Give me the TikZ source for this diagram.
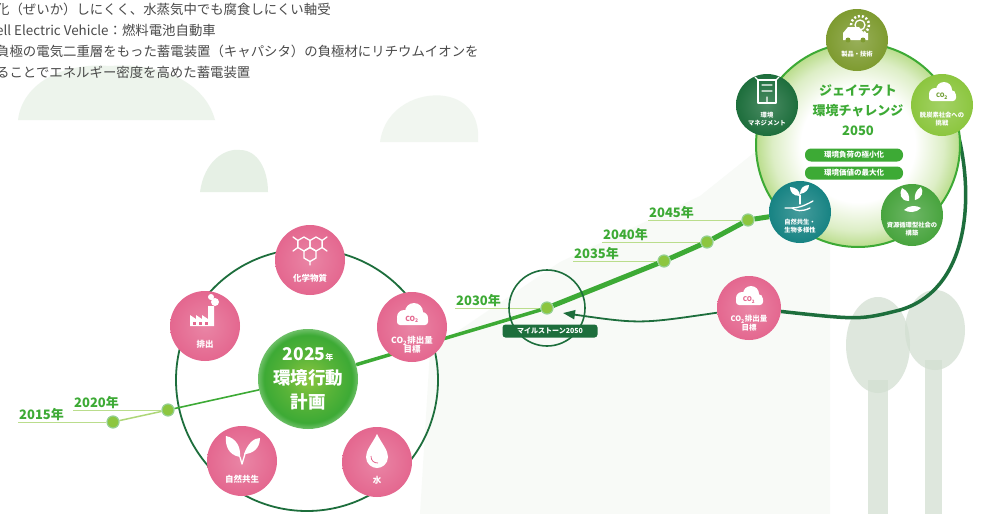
\documentclass[tikz,border=0pt]{standalone}
\usepackage{fontspec}
\setmainfont{Noto Sans CJK JP}
\usetikzlibrary{
    arrows.meta,
    positioning,
    backgrounds,
    calc
}

\definecolor{jgreen}{HTML}{3DAA35}
\definecolor{jlime}{HTML}{8CC63F}
\definecolor{jdark}{HTML}{1D6E3C}
\definecolor{jpink}{HTML}{E4678F}
\definecolor{jolive}{HTML}{7E9B30}
\definecolor{jteal}{HTML}{178383}
\definecolor{jmid}{HTML}{48A43E}
\definecolor{jtext}{HTML}{4A4A4A}
\definecolor{jhaze}{HTML}{DCEADB}

% glow for the 2050 ring and the 2025 core (edge of a circle sits at 25bp)
\pgfdeclareradialshading{ringglow}{\pgfpoint{0bp}{0bp}}{color(0bp)=(white); color(14bp)=(white); color(21bp)=(jlime!30!white); color(25bp)=(jlime!60!white); color(50bp)=(jlime!60!white)}
\pgfdeclareradialshading{coreglow}{\pgfpoint{0bp}{0bp}}{color(0bp)=(jlime); color(12bp)=(jgreen!65!jlime); color(22bp)=(jgreen); color(25bp)=(jgreen!75!white); color(50bp)=(jgreen!75!white)}

\begin{document}
\begin{tikzpicture}[x=1pt,y=-1pt,
    topic/.style={circle,shade,inner color=jpink!80!white,outer color=jpink,minimum size=70pt,inner sep=0pt},
    pillar/.style={circle,minimum size=62pt,inner sep=0pt},
    tag/.style={text=white,font=\fontsize{8.5}{9.5}\selectfont\bfseries,align=center,inner sep=0pt},
    smalltag/.style={text=white,font=\fontsize{6.3}{7.5}\selectfont\bfseries,align=center,inner sep=0pt},
    icon/.style={white,line width=1.3pt,line join=round,line cap=round},
    yeardot/.style={circle,fill=jlime,draw=jgreen!55!white,line width=1.2pt,minimum size=12pt,inner sep=0pt},
    yeartext/.style={text=jgreen,font=\fontsize{13}{13}\selectfont\bfseries,inner sep=1pt,anchor=south west},
    tick/.style={jlime!60!white,line width=0.8pt},
    route/.style={jgreen,line width=5pt},
    haze/.style={fill=jhaze},
    tree/.style={fill=jhaze!90!gray,opacity=.75}]
\useasboundingbox (0,0) rectangle (986,514);
\clip (0,0) rectangle (986,514);

% background: clouds, trees, soft band
\begin{scope}[on background layer]
    \fill[white] (0,0) rectangle (986,514);
    \fill[haze,opacity=.5] (18,120) .. controls (22,85) and (60,62) .. (110,66) .. controls (160,62) and (205,82) .. (215,120) -- cycle;
    \fill[haze,opacity=.7] (200,192) .. controls (204,162) and (224,148) .. (240,150) .. controls (258,150) and (268,170) .. (268,192) -- cycle;
    \fill[haze,opacity=.4] (380,142) .. controls (385,106) and (420,92) .. (445,96) .. controls (470,100) and (480,120) .. (478,142) -- cycle;
    \fill[haze,opacity=.2] (420,514) -- (430,350) -- (560,262) -- (700,196) -- (770,140) -- (830,240) -- (830,514) -- cycle;
    \fill[tree] (878,345) ellipse (32 and 48);
    \fill[tree] (935,330) ellipse (30 and 40);
    \fill[tree] (868,380) rectangle (888,514);
    \fill[tree] (925,360) rectangle (942,514);
\end{scope}

% notes
\node[anchor=north west,align=left,text=jtext,font=\fontsize{13.4}{21}\selectfont,inner sep=0pt] (notes) at (-4,3)
    {化（ぜいか）しにくく、水蒸気中でも腐食しにくい軸受\\ell Electric Vehicle：燃料電池自動車\\負極の電気二重層をもった蓄電装置（キャパシタ）の負極材にリチウムイオンを\\ることでエネルギー密度を高めた蓄電装置};

% 2025 plan
\node[circle,shade,shading=coreglow,minimum size=100pt,inner sep=0pt,text=white,align=center,
      font=\fontsize{17.5}{24}\selectfont\bfseries] (core) at (308,379)
    {2025{\fontsize{8}{8}\selectfont 年}\\環境行動\\計画};
\foreach \nm/\cx/\cy/\txt in {chem/310/260/化学物質, fact/205/326/排出, co2a/412/327/{CO\textsubscript{2}排出量\\目標}, leaf/242/461/自然共生, drop/377/462/水}
{
    \node[topic] (\nm) at (\cx,\cy) {};
    \node[tag] at ($(\nm)+(0,18)$) {\txt};
}

% icons of the plan
\begin{scope}[shift={(chem)}]
    \foreach \hx/\hy in {-6.06/-16,6.06/-16,0/-5.5}
        \draw[icon] (\hx,\hy) +(30:7) -- +(90:7) -- +(150:7) -- +(210:7) -- +(270:7) -- +(330:7) -- cycle;
    \draw[icon] (-12.1,-19.5) -- (-17,-23) (12.1,-19.5) -- (17,-23) (-12.1,-12.5) -- (-17,-9) (12.1,-12.5) -- (17,-9) (0,1.5) -- (0,5);
\end{scope}
\begin{scope}[shift={(fact)}]
    \fill[white] (-15,0) -- (-15,-11) -- (-9,-7) -- (-9,-11) -- (-3,-7) -- (-3,-11) -- (3,-7) -- (3,-20) -- (9,-20) -- (9,0) -- cycle;
    \foreach \wx in {-12,-6,0} \fill[jpink] (\wx,-4) rectangle (\wx+3,-1.5);
    \fill[white] (10,-24) circle (4) (6,-29) circle (3);
\end{scope}
\begin{scope}[shift={(co2a)}]
    \fill[white] (-8,-10) circle (7) (2,-15) circle (9) (10,-9) circle (6);
    \fill[white,rounded corners=3pt] (-15,-11) rectangle (16,-2);
    \node[text=jpink,font=\fontsize{7}{7}\selectfont\bfseries,inner sep=0pt] at (0,-8) {CO\textsubscript{2}};
\end{scope}
\begin{scope}[shift={(drop)}]
    \fill[white] (0,-28) .. controls (5,-18) and (11,-12) .. (11,-5) .. controls (11,2) and (5,6) .. (0,6) .. controls (-5,6) and (-11,2) .. (-11,-5) .. controls (-11,-12) and (-5,-18) .. (0,-28);
    \draw[jpink,line width=0.8pt] (-6,-6) .. controls (-6,-1) and (-3,1) .. (1,1);
\end{scope}
\begin{scope}[shift={(leaf)}]
    \fill[white] (-2,-4) .. controls (-14,-6) and (-17,-16) .. (-16,-25) .. controls (-6,-23) and (-1,-14) .. (-2,-4);
    \fill[white] (2,-7) .. controls (6,-18) and (12,-23) .. (18,-23) .. controls (18,-12) and (10,-7) .. (2,-7);
    \draw[icon] (0,3) -- (-2,-4) (0,3) -- (3,-7);
\end{scope}

% 2050 challenge
\node[circle,shade,shading=ringglow,draw=jgreen,line width=2pt,minimum size=204pt,inner sep=0pt] (ring) at (858,145) {};
\node[text=jgreen,align=center,font=\fontsize{13}{20}\selectfont\bfseries,inner sep=0pt] (motto) at (858,110)
    {ジェイテクト\\環境チャレンジ\\2050};
\node[fill=jgreen,rounded corners=6pt,text=white,font=\fontsize{7.5}{8}\selectfont\bfseries,
      minimum width=98pt,minimum height=13pt,inner sep=0pt] (low1) at (854,155) {環境負荷の極小化};
\node[fill=jgreen,rounded corners=6pt,text=white,font=\fontsize{7.5}{8}\selectfont\bfseries,
      minimum width=98pt,minimum height=13pt,inner sep=0pt] (low2) at (854,173) {環境価値の最大化};
\foreach \nm/\cx/\cy/\col/\txt in {rtop/857/40/jolive/製品・技術, rleft/767/105/jdark/{環境\\マネジメント},
    rright/942/105/jlime/{脱炭素社会への\\挑戦}, rbl/800/212/jteal/{自然共生・\\生物多様性}, rbr/912/215/jmid/{資源循環型社会の\\構築}}
{
    \node[pillar,shade,inner color=\col!80!white,outer color=\col] (\nm) at (\cx,\cy) {};
    \node[smalltag] at ($(\nm)+(0,14)$) {\txt};
}

% icons of the challenge
\begin{scope}[shift={(rtop)}]
    \draw[white,line width=2.5pt,dash pattern=on 2pt off 2pt] (3,-15) circle (9);
    \draw[icon] (3,-15) circle (5);
    \fill[white] (-14,0) -- (-14,-7) -- (-9,-13) -- (2,-13) -- (7,-7) -- (11,-7) -- (11,0) -- cycle;
    \fill[jolive] (-9,0) circle (2.5) (6,0) circle (2.5);
\end{scope}
\begin{scope}[shift={(rleft)}]
    \draw[icon] (-9,-25) rectangle (9,-2);
    \draw[icon] (-5,-20) -- (5,-20) (-5,-14) -- (5,-14) (0,-8) -- (0,-2) (-9,-25) -- (-12,-28) (9,-25) -- (12,-28);
\end{scope}
\begin{scope}[shift={(rright)}]
    \fill[white] (-7,-11) circle (6) (2,-15) circle (8) (9,-10) circle (5);
    \fill[white,rounded corners=3pt] (-13,-12) rectangle (14,-4);
    \node[text=jlime!80!black,font=\fontsize{6}{6}\selectfont\bfseries,inner sep=0pt] at (0,-9) {CO\textsubscript{2}};
\end{scope}
\begin{scope}[shift={(rbl)}]
    \draw[icon] (0,-8) -- (0,-17);
    \fill[white] (0,-16) .. controls (-7,-16) and (-10,-20) .. (-10,-25) .. controls (-4,-25) and (0,-21) .. (0,-16);
    \fill[white] (0,-18) .. controls (6,-19) and (9,-23) .. (9,-27) .. controls (3,-27) and (0,-23) .. (0,-18);
    \draw[icon] (-15,-4) -- (-8,-4) .. controls (-2,-4) and (4,-6) .. (13,-11);
    \draw[icon] (-8,-4) .. controls (-4,-1) and (2,0) .. (10,-4);
\end{scope}
\begin{scope}[shift={(rbr)}]
    \fill[white] (-3,-14) .. controls (-12,-14) and (-13,-22) .. (-10,-27) .. controls (-4,-24) and (-2,-19) .. (-3,-14);
    \fill[white] (3,-15) .. controls (10,-17) and (12,-23) .. (9,-28) .. controls (4,-25) and (2,-20) .. (3,-15);
    \fill[white] (-8,-5) .. controls (-3,-10) and (4,-10) .. (9,-7) .. controls (4,-2) and (-3,-2) .. (-8,-5);
\end{scope}

% milestones
\foreach \yr/\dx/\dy/\ux in {2015/113/422/18, 2020/168/410/73, 2030/547/308/455, 2035/664/261/573, 2040/707/242/602, 2045/748/220/648}
{
    \node[yeardot] (d\yr) at (\dx,\dy) {};
    \node[yeartext] (t\yr) at (\ux,\dy) {\yr 年};
    \begin{scope}[on background layer]
        \draw[tick] (t\yr.south west) -- (d\yr);
    \end{scope}
}
\node[circle,draw=jdark,line width=1.6pt,minimum size=76pt,inner sep=0pt] (ms) at (d2030) {};
\node[fill=jdark,rounded corners=3pt,text=white,font=\fontsize{7}{7.5}\selectfont\bfseries,
      minimum width=95pt,minimum height=13pt,inner sep=0pt] (mslbl) at (550,331) {マイルストーン2050};
\node[topic,minimum size=64pt] (co2b) at (749,308) {};
\begin{scope}[shift={(co2b)}]
    \fill[white] (-7,-10) circle (6) (2,-14) circle (8) (9,-9) circle (5);
    \fill[white,rounded corners=3pt] (-13,-11) rectangle (14,-3);
    \node[text=jpink,font=\fontsize{6.5}{6.5}\selectfont\bfseries,inner sep=0pt] at (0,-8) {CO\textsubscript{2}};
\end{scope}
\node[tag,font=\fontsize{7.5}{8.5}\selectfont\bfseries] at ($(co2b)+(0,15)$) {CO\textsubscript{2}排出量\\目標};
\coordinate (msin) at (563,313);

% connectors
\begin{scope}[on background layer]
    \node[circle,draw=jdark,line width=1.8pt,minimum size=262pt,inner sep=0pt] (plan) at (307,380) {};
    \draw[jlime!70!white,line width=1.5pt] (d2015) -- (d2020);
    \draw[jgreen,line width=1.6pt] (d2020) -- (core);
    \draw[jgreen,line width=3.5pt] (core) -- (d2030);
    \draw[route] (d2030) -- (d2035) -- (d2040) -- (d2045) -- (rbl);
    \draw[jdark,line width=3.5pt] (rright.-60) .. controls (975,200) and (968,290) .. (900,310) .. controls (860,320) .. (co2b);
    \draw[jdark,line width=1.8pt,-{Triangle[length=12pt,width=9pt]}] (co2b) .. controls (640,324) .. (msin);
\end{scope}
\end{tikzpicture}
\end{document}
